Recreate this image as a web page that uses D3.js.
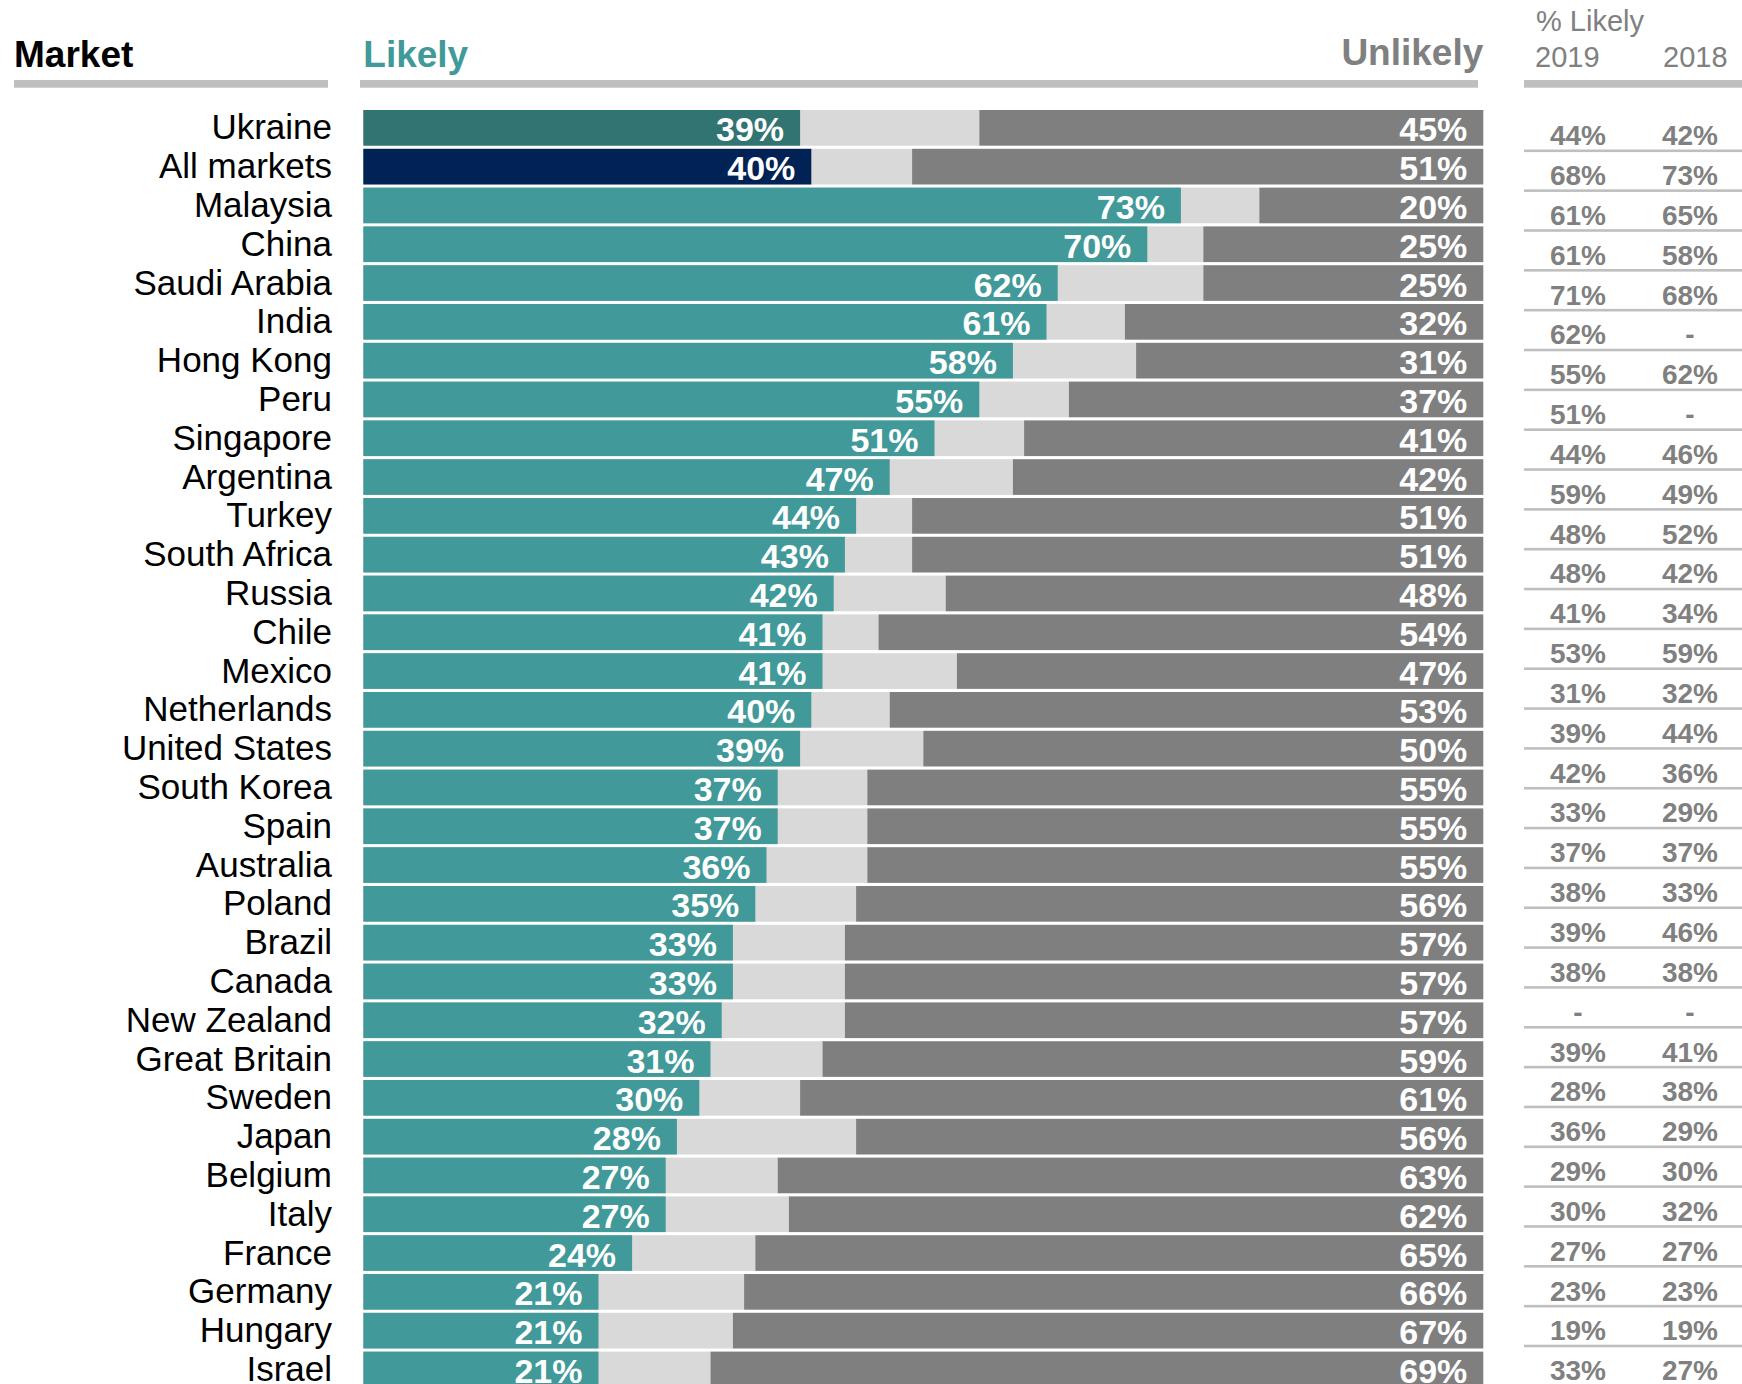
<!DOCTYPE html>
<html>
<head>
<meta charset="utf-8">
<script src="https://cdn.jsdelivr.net/npm/d3@7"></script>
<style>
  body { margin: 0; background: #fff; }
  svg { display: block; font-family: "Liberation Sans", Arial, sans-serif; }
</style>
</head>
<body>
<div id="chart"></div>
<script>
const markets = [
  "Ukraine", "All markets", "Malaysia", "China", "Saudi Arabia", "India",
  "Hong Kong", "Peru", "Singapore", "Argentina", "Turkey", "South Africa",
  "Russia", "Chile", "Mexico", "Netherlands", "United States", "South Korea",
  "Spain", "Australia", "Poland", "Brazil", "Canada", "New Zealand",
  "Great Britain", "Sweden", "Japan", "Belgium", "Italy", "France",
  "Germany", "Hungary", "Israel",
];
const likely = [
  39, 40, 73, 70, 62, 61, 58, 55, 51, 47, 44, 43, 42, 41, 41, 40, 39,
  37, 37, 36, 35, 33, 33, 32, 31, 30, 28, 27, 27, 24, 21, 21, 21,
];
const unlikely = [
  45, 51, 20, 25, 25, 32, 31, 37, 41, 42, 51, 51, 48, 54, 47, 53, 50,
  55, 55, 55, 56, 57, 57, 57, 59, 61, 56, 63, 62, 65, 66, 67, 69,
];
// side table, "% Likely" by year (null = no data)
const likely2019 = [
  44, 68, 61, 61, 71, 62, 55, 51, 44, 59, 48, 48, 41, 53, 31, 39,
  42, 33, 37, 38, 39, 38, null, 39, 28, 36, 29, 30, 27, 23, 19, 33,
];
const likely2018 = [
  42, 73, 65, 58, 68, null, 62, null, 46, 49, 52, 42, 34, 59, 32, 44,
  36, 29, 37, 33, 46, 38, null, 41, 38, 29, 30, 32, 27, 23, 19, 27,
];

const width = 1742;
const height = 1384;

const colors = {
  likely: "#419999",
  highlight: "#317472",
  total: "#002254",
  neutral: "#d9d9d9",
  unlikely: "#7f7f7f",
  rule: "#bfbfbf",
  greyText: "#808080",
};

const data = markets.map((m, i) => ({
  market: m,
  likely: likely[i],
  unlikely: unlikely[i],
}));

const svg = d3
  .select("#chart")
  .append("svg")
  .attr("width", width)
  .attr("height", height);

const x = d3.scaleLinear().domain([0, 100]).range([363.3, 1483.3]);

const step = 38.8;
const y = d3
  .scaleBand()
  .domain(markets)
  .range([110, 110 + step * markets.length - step * 0.08])
  .paddingInner(0.08)
  .paddingOuter(0);

// headers
const header = svg.append("g").attr("class", "header");
header
  .append("text")
  .attr("x", 14)
  .attr("y", 67)
  .attr("font-size", 37)
  .attr("font-weight", "bold")
  .attr("fill", "#000")
  .text("Market");
header
  .append("text")
  .attr("x", x(0))
  .attr("y", 67)
  .attr("font-size", 37)
  .attr("font-weight", "bold")
  .attr("fill", colors.likely)
  .text("Likely");
header
  .append("text")
  .attr("x", x(100))
  .attr("y", 65)
  .attr("font-size", 37)
  .attr("font-weight", "bold")
  .attr("text-anchor", "end")
  .attr("fill", colors.greyText)
  .text("Unlikely");
header
  .append("text")
  .attr("x", 1536)
  .attr("y", 31)
  .attr("font-size", 29)
  .attr("fill", colors.greyText)
  .text("% Likely");
header
  .selectAll(".year")
  .data([["2019", 1535], ["2018", 1663]])
  .join("text")
  .attr("class", "year")
  .attr("x", (d) => d[1])
  .attr("y", 67)
  .attr("font-size", 29)
  .attr("fill", colors.greyText)
  .text((d) => d[0]);

header
  .selectAll(".rule")
  .data([[14, 328], [360, 1478], [1524, 1742]])
  .join("rect")
  .attr("class", "rule")
  .attr("x", (d) => d[0])
  .attr("width", (d) => d[1] - d[0])
  .attr("y", 80)
  .attr("height", 7.7)
  .attr("fill", colors.rule);

// bars
const row = svg
  .append("g")
  .selectAll(".row")
  .data(data)
  .join("g")
  .attr("class", "row")
  .attr("transform", (d) => `translate(0,${y(d.market)})`);

row
  .append("rect")
  .attr("x", x(0))
  .attr("width", (d) => x(100 - d.unlikely) - x(0))
  .attr("height", y.bandwidth())
  .attr("fill", colors.neutral);

row
  .append("rect")
  .attr("x", (d) => x(100 - d.unlikely))
  .attr("width", (d) => x(100) - x(100 - d.unlikely))
  .attr("height", y.bandwidth())
  .attr("fill", colors.unlikely);

row
  .append("rect")
  .attr("x", x(0))
  .attr("width", (d) => x(d.likely) - x(0))
  .attr("height", y.bandwidth())
  .attr("fill", (d, i) =>
    i === 0 ? colors.highlight : i === 1 ? colors.total : colors.likely
  );

row
  .append("text")
  .attr("x", 332)
  .attr("y", y.bandwidth() / 2 + 11.5)
  .attr("text-anchor", "end")
  .attr("font-size", 35)
  .attr("fill", "#000")
  .text((d) => d.market);

row
  .append("text")
  .attr("x", (d) => x(d.likely) - 16)
  .attr("y", y.bandwidth() / 2 + 13.5)
  .attr("text-anchor", "end")
  .attr("font-size", 34)
  .attr("font-weight", "bold")
  .attr("fill", "#fff")
  .text((d) => `${d.likely}%`);

row
  .append("text")
  .attr("x", x(100) - 16)
  .attr("y", y.bandwidth() / 2 + 13.5)
  .attr("text-anchor", "end")
  .attr("font-size", 34)
  .attr("font-weight", "bold")
  .attr("fill", "#fff")
  .text((d) => `${d.unlikely}%`);

// side table
const tableRows = likely2019.map((v, i) => ({ y2019: v, y2018: likely2018[i] }));
const ty = d3
  .scaleLinear()
  .domain([0, 1])
  .range([150.7, 150.7 + 39.84]);
const fmt = (v) => (v == null ? "-" : `${v}%`);

const trow = svg
  .append("g")
  .selectAll(".trow")
  .data(tableRows)
  .join("g")
  .attr("class", "trow")
  .attr("transform", (d, i) => `translate(0,${ty(i)})`);

trow
  .append("rect")
  .attr("x", 1524)
  .attr("width", width - 1524)
  .attr("y", -1.2)
  .attr("height", 2.6)
  .attr("fill", colors.rule);

trow
  .selectAll("text")
  .data((d) => [[d.y2019, 1578], [d.y2018, 1690]])
  .join("text")
  .attr("x", (d) => d[1])
  .attr("y", -5.5)
  .attr("text-anchor", "middle")
  .attr("font-size", 28)
  .attr("font-weight", "bold")
  .attr("fill", colors.greyText)
  .text((d) => fmt(d[0]));
</script>
</body>
</html>
